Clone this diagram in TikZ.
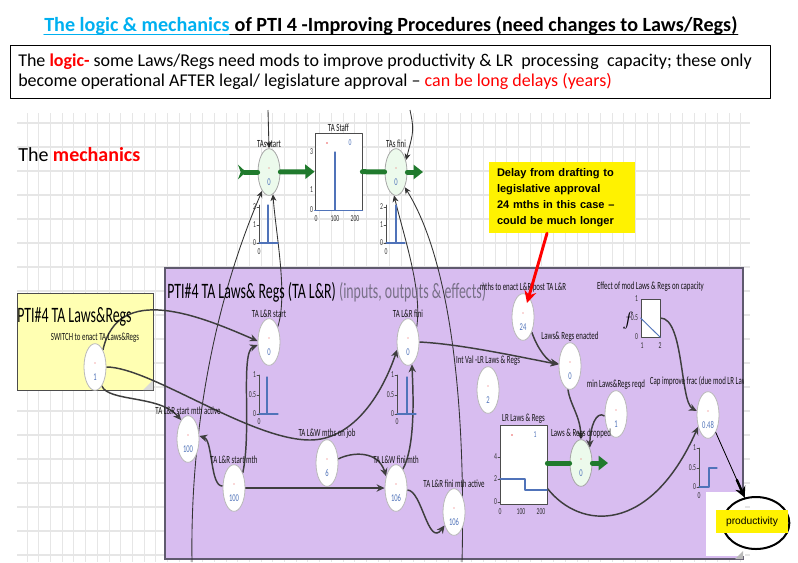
\documentclass[tikz,border=0pt]{standalone}
\usepackage{fontspec}
\setmainfont{Carlito}
\newfontfamily\cnd{Carlito}[FakeStretch=0.63]
\newfontfamily\arial{Liberation Sans}
\usetikzlibrary{shapes.geometric,arrows.meta,backgrounds,calc}
\pgfdeclarelayer{back}
\pgfsetlayers{back,background,main}
\definecolor{titlecyan}{RGB}{0,176,240}
\definecolor{purp}{RGB}{216,189,240}
\definecolor{purpedge}{RGB}{95,90,110}
\definecolor{purgray}{RGB}{120,112,135}
\definecolor{modyellow}{RGB}{255,255,178}
\definecolor{valblue}{RGB}{80,115,185}
\definecolor{dotred}{RGB}{235,90,90}
\definecolor{flowgreen}{RGB}{32,122,45}
\definecolor{valvefill}{RGB}{236,250,236}
\definecolor{linkgray}{RGB}{62,62,62}
\definecolor{gridc}{RGB}{230,230,230}
\tikzset{
  lbl/.style={rectangle, draw=none, fill=none, minimum size=0pt, text height=, text depth=, path picture=, inner sep=0.5pt, font=\cnd\fontsize{8.2}{8.2}\selectfont, text=black!92},
  var/.style={ellipse, draw=gray!55, line width=0.6pt, fill=white, minimum width=16.5pt, minimum height=35pt, inner sep=0pt, text height=20pt, text depth=0pt, font=\cnd\fontsize{7.8}{7.8}\selectfont, text=valblue, label distance=3pt, path picture={\fill[dotred] ([yshift=3pt]path picture bounding box.center) circle (0.5pt);}},
  valve/.style={var, fill=valvefill, draw=gray!70},
  stockbox/.style={rectangle, draw=gray!60!black, line width=0.6pt, fill=white, inner sep=0pt, label distance=1pt},
  link/.style={draw=linkgray, line width=1.1pt, -{Stealth[length=6pt,width=5.5pt,inset=2pt]}},
  farlink/.style={draw=black!80, line width=0.65pt, -{Stealth[length=5pt,width=4.5pt,inset=1.5pt]}},
  flow/.style={draw=flowgreen, line width=3.75pt, -{Triangle[length=7pt,width=10.5pt]}},
  tick/.style={inner sep=0.5pt, font=\cnd\fontsize{6.8}{7}\selectfont, text=black!80},
  chartax/.style={draw=black!70, line width=0.5pt},
  chartline/.style={draw=valblue, line width=0.9pt},
  delaybox/.style={fill=yellow, font=\arial\bfseries\fontsize{8.3}{12}\selectfont, align=left, text width=97.5pt, minimum width=109.5pt, minimum height=53.25pt, inner sep=0pt},
  headtxt/.style={font=\bfseries\fontsize{15.1}{17}\selectfont, inner sep=0pt, anchor=base west},
}
\begin{document}
\begin{tikzpicture}[x=0.75pt, y=-0.75pt, line join=round, line cap=round]
\useasboundingbox (0,0) rectangle (798,562);

\begin{pgfonlayer}{back}
  \foreach \gx in {0,...,61} \draw[gridc, line width=0.6pt] ({27+11.7*\gx},113) -- ({27+11.7*\gx},562);
  \foreach \gy in {0,...,18} \draw[gridc, line width=0.9pt] (17,{123+24*\gy}) -- (750,{123+24*\gy});
  \fill[purp] (165,268) rectangle (743,559);
  \draw[purpedge, line width=1.1pt] (165,268) rectangle (743,559);
  \filldraw[fill=modyellow, draw=gray!60!black, line width=0.5pt] (17,293) rectangle (153,390);
  \fill[black!15] (143,390) -- (153,380) -- (153,390) -- cycle;
  \fill[white] (706,492) rectangle (745,556);
  \fill[gray!55] (735,559) -- (743,551) -- (743,559) -- cycle;
\end{pgfonlayer}

\node[headtxt, text=titlecyan] (headA) at (44,31) {The logic \& mechanics};
\node[headtxt] (headB) at (headA.base east) {\ of PTI 4 -Improving Procedures (need changes to Laws/Regs)};
\draw[titlecyan, line width=0.9pt] ([yshift=-2.8pt]headA.base west) -- ([yshift=-2.8pt]headA.base east);
\draw[black, line width=0.9pt] ([yshift=-2.8pt]headB.base west) -- ([yshift=-2.8pt]headB.base east);

\node[draw=black, line width=0.6pt, minimum width=570pt, minimum height=39.75pt, anchor=north west, inner sep=0pt] (logicbox) at (10,45) {};
\node[anchor=west, align=left, font=\fontsize{13.5}{15}\selectfont, inner sep=0pt] (logictxt) at (18,72)
  {The \textcolor{red}{\textbf{logic-}} some Laws/Regs need mods to improve productivity \& LR\ \ processing\ \ capacity; these only\\
   become operational AFTER legal/ legislature approval \textendash{} \textcolor{red}{can be long delays (years)}};
\node[anchor=west, font=\fontsize{15}{15}\selectfont, inner sep=0pt] (mech) at (18,155) {The \textcolor{red}{\textbf{mechanics}}};

\node[anchor=base west, font=\cnd\fontsize{16.5}{17}\selectfont, inner sep=0pt] (lrtitle) at (167,298)
  {PTI\#4 TA Laws\& Regs (TA L\&R) \textcolor{purgray}{(inputs, outputs \& effects)}};
\node[anchor=base west, font=\cnd\fontsize{16.5}{17}\selectfont, inner sep=0pt] (swtitle) at (17,322) {PTI\#4 TA Laws\&Regs};

\node[valve, label={[lbl]above:TAs start}] (tastart) at (269,172) {0};
\node[stockbox, minimum width=35.25pt, minimum height=57.75pt, label={[lbl]above:TA Staff}] (tastaff) at (338.5,171.5) {};
\node[valve, label={[lbl]above:TAs fini}] (tasfini) at (396,172) {0};

\node[var, label={[lbl]above:SWITCH to enact TA Laws\&Regs}] (switch) at (95,367) {1};
\node[var, label={[lbl]above:TA L\&R start}] (lrstart) at (269,342) {0};
\node[var, label={[lbl]above:TA L\&R fini}] (lrfini) at (408,342) {0};
\node[var, label={[lbl]above:TA L\&R start mth active}] (startact) at (188,439) {100};
\node[var, label={[lbl]above:TA L\&R start mth}] (startmth) at (234,488) {100};
\node[var, label={[lbl]above:TA L\&W mths on job}] (mthsjob) at (327,463) {6};
\node[var, label={[lbl]above:TA L\&W fini mth}] (finimth) at (396,488) {106};
\node[var, label={[lbl]above:TA L\&R fini mth active}] (finiact) at (454,512) {106};
\node[var, label={[lbl]above:Int Val -LR Laws \& Regs}] (intval) at (488,390) {2};
\node[var, label={[lbl]above:mths to enact L\&R post TA L\&R}] (enactdelay) at (523,317) {24};
\node[var, label={[lbl]above:Laws\& Regs enacted}] (enacted) at (570,366) {0};
\node[var, label={[lbl]above:min Laws\&Regs reqd}] (minreqd) at (616,414) {1};
\node[var] (capfrac) at (708,415) {0.48};
\begin{scope}
  \clip (640,370) rectangle (743,392);
  \node[lbl, anchor=west] (caplbl) at (649,381) {Cap improve frac (due mod LR Laws \&};
\end{scope}
\node[stockbox, minimum width=35.25pt, minimum height=59.25pt, label={[lbl]above:LR Laws \& Regs}] (lrstock) at (523.5,464.5) {};
\node[valve, label={[lbl]above:Laws \& Regs dropped}] (dropped) at (581,463) {0};
\node[stockbox, minimum width=14.25pt, minimum height=28.5pt, label={[lbl,label distance=5pt]above:Effect of mod Laws \& Regs on capacity}] (effect) at (650.5,318) {};
\node[font=\fontsize{15}{15}\selectfont] (fsym) at (628,321) {$f$};

% flows
\coordinate (srcA) at (238,172);
\coordinate (sinkA) at (423,172);
\coordinate (sinkB) at (608,463);
\draw[flow, {Stealth[reversed,length=6pt,width=11pt,inset=2pt]}-] (srcA) -- (tastart);
\draw[flow] (tastart) -- (tastaff);
\draw[flow, -] (tastaff) -- (tasfini);
\draw[flow] (tasfini) -- (sinkA);
\draw[flow, -] (lrstock.east |- dropped) -- (dropped);
\draw[flow] (dropped) -- (sinkB);

% small charts
\draw[chartax] (259,205) -- (259,243);
\draw[chartline] (259,243) -- (278,243) (268,243) -- (268,205);
\foreach \v/\yy [count=\i] in {2/207,1/225,0/243} {\draw[chartax] (257,\yy) -- (259,\yy); \node[tick, anchor=east] (sa\i) at (257,\yy) {\v};}
\node[tick] (sa0) at (259,252) {0};
\draw[chartax] (386,205) -- (386,243);
\draw[chartline] (386,243) -- (405,243) (396,243) -- (396,205);
\foreach \v/\yy [count=\i] in {2/207,1/225,0/243} {\draw[chartax] (384,\yy) -- (386,\yy); \node[tick, anchor=east] (sf\i) at (384,\yy) {\v};}
\node[tick] (sf0) at (386,252) {0};

\draw[chartline] (tastaff.south west) -- (tastaff.south east) (335,210) -- (335,152);
\foreach \v/\yy [count=\i] in {3/152,1/190,0/210} {\node[tick, anchor=east] (ts\i) at (314,\yy) {\v};}
\foreach \v/\xx [count=\i] in {0/316,100/335,200/355} {\node[tick] (tb\i) at (\xx,219) {\v};}
\fill[dotred] (327,143) circle (0.6pt);
\node[tick, text=valblue] (tsv) at (350,143) {0};

\draw[chartax] (259,375) -- (259,414);
\draw[chartline] (259,414) -- (278,414) (267,414) -- (267,377);
\foreach \v/\yy [count=\i] in {1/375,0.5/395,0/414} {\draw[chartax] (257,\yy) -- (259,\yy); \node[tick, anchor=east] (ls\i) at (257,\yy) {\v};}
\node[tick] (ls0) at (259,422) {0};
\draw[chartax] (397,375) -- (397,414);
\draw[chartline] (397,414) -- (416,414) (407,414) -- (407,377);
\foreach \v/\yy [count=\i] in {1/375,0.5/395,0/414} {\draw[chartax] (395,\yy) -- (397,\yy); \node[tick, anchor=east] (lf\i) at (395,\yy) {\v};}
\node[tick] (lf0) at (397,422) {0};

\draw[chartax] (699,448) -- (699,487);
\draw[chartline] (699,487) -- (709,487) -- (709,468) -- (717,468);
\foreach \v/\yy [count=\i] in {1/448,0.5/468,0/487} {\draw[chartax] (697,\yy) -- (699,\yy); \node[tick, anchor=east] (cf\i) at (697,\yy) {\v};}
\node[tick] (cf0) at (699,496) {0};

\draw[chartline] (500,479) -- (525,479) -- (525,490) -- (547,490);
\foreach \v/\yy [count=\i] in {4/457,2/479,0/502} {\draw[chartax] (498,\yy) -- (500,\yy); \node[tick, anchor=east] (lr\i) at (498,\yy) {\v};}
\foreach \v/\xx [count=\i] in {0/500,100/521,200/541} {\node[tick] (lb\i) at (\xx,512) {\v};}
\fill[dotred] (512,435) circle (0.6pt);
\node[tick, text=valblue] (lrv) at (535,435) {1};

\draw[chartline, line width=0.7pt] (effect.west) -- (effect.south east);
\foreach \v/\yy [count=\i] in {1/299,0.5/318,0/337} {\node[tick, anchor=east] (ef\i) at (639,\yy) {\v};}
\node[tick] (eb1) at (642,346) {1};
\node[tick] (eb2) at (660,346) {2};

% links
\coordinate (offA) at (192,562);
\coordinate (offB) at (462,562);
\coordinate (topA) at (268,110);
\coordinate (topB) at (410,110);
\begin{scope}[on background layer]
  \draw[farlink] (offA) .. controls (190,430) and (215,300) .. (tastart.250);
  \draw[farlink] (lrstart.60) .. controls (288,295) and (276,235) .. (tastart.-80);
  \draw[farlink] (lrfini.60) .. controls (422,290) and (405,240) .. (tasfini.-95);
  \draw[farlink] (offB) .. controls (466,400) and (450,260) .. (tasfini.-60);
  \draw[farlink] (topA) -- (tastart.north);
  \draw[farlink] (topB) .. controls (414,130) .. (tasfini.50);

  \draw[link] (switch.65) .. controls (118,282) and (200,316) .. (lrstart.175);
  \draw[link] (switch.-70) .. controls (108,402) and (160,395) .. (startact.110);
  \draw[link] (switch.east) .. controls (150,367) and (250,440) .. (310,440) .. controls (350,440) and (380,400) .. (lrfini.215);
  \draw[link] (startmth.170) .. controls (210,487) and (213,440) .. (startact.15);
  \draw[link, line width=1.5pt] (startmth) -- (finimth);
  \draw[link] (mthsjob.20) .. controls (352,452) and (378,450) .. (finimth.130);
  \draw[link] (finimth.-10) .. controls (422,490) and (428,548) .. (finiact.235);
  \draw[link] (startmth.60) .. controls (252,430) and (240,352) .. (lrstart.195);
  \draw[link] (finimth.70) .. controls (416,445) and (413,390) .. (lrfini.-80);
  \draw[link] (lrfini.east) .. controls (460,344) and (515,356) .. (enacted.172);
  \draw[link] (enactdelay.-60) .. controls (538,350) and (548,362) .. (enacted.168);
  \draw[link] (enacted.-95) .. controls (570,405) and (580,415) .. (dropped.north);
  \draw[link] (minreqd.190) .. controls (596,410) and (590,428) .. (dropped.60);
  \draw[link] (lrstock.-45) .. controls (580,530) and (650,535) .. (capfrac.230);
  \draw[link] (effect.east) .. controls (684,318) and (680,402) .. (capfrac.160);
\end{scope}

\node[delaybox] (delay) at (562,197.5) {Delay from drafting to\\legislative approval\\24 mths in this case \textendash\\could be much longer};
\draw[red, line width=2.2pt, -{Stealth[length=9pt,width=9pt]}] ($(delay.south)+(-15,0)$) -- ($(enactdelay.center)+(4,-14)$);

\node[draw, ellipse, line width=1.5pt, minimum width=50pt, minimum height=39pt] (prodring) at (756,523) {};
\draw[black, line width=0.6pt] (capfrac) -- (prodring);
\draw[black, line width=1.8pt, -{Stealth[length=8pt,width=8pt]}] ($(capfrac)!0.6!(prodring)$) -- (prodring);
\node[fill=yellow, font=\arial\fontsize{7.7}{8}\selectfont, minimum width=54pt, minimum height=17.25pt, inner sep=0pt] (prod) at (752,521.5) {productivity};
\end{tikzpicture}
\end{document}
